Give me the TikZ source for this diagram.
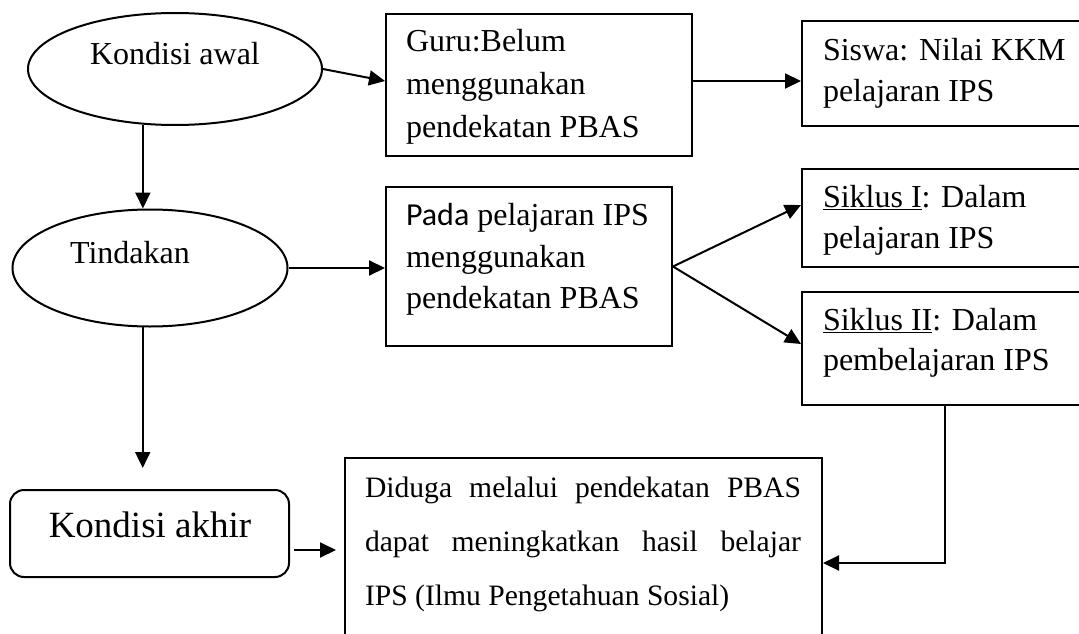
\documentclass[tikz,border=0pt]{standalone}
\usepackage{fontspec}
\setmainfont{Liberation Serif}
\newfontfamily\calibrifont{Carlito}
\usetikzlibrary{arrows.meta,shapes.geometric}
\begin{document}
\begin{tikzpicture}[x=1pt,y=1pt,
  line width=2pt,
  arr/.style={-{Triangle[length=16pt,width=15pt]}},
  boxnode/.style={draw,rectangle,inner sep=0pt,anchor=north west},
  ell/.style={draw,ellipse,inner sep=0pt},
  txt/.style={inner sep=0pt,anchor=base west,font=\fontsize{32}{40}\selectfont},
  dtxt/.style={inner sep=0pt,anchor=base west,font=\fontsize{29.6}{40}\selectfont},
  ctxt/.style={inner sep=0pt,anchor=base,font=\fontsize{32}{40}\selectfont}]
\clip (0,0) rectangle (1079,-634);
\fill[white] (0,0) rectangle (1079,-634);

% shapes
\node[ell,minimum width=294pt,minimum height=112pt] (e1) at (175,-69) {};
\node[ell,minimum width=275pt,minimum height=117pt] (e2) at (150,-268) {};
\node[draw,rectangle,rounded corners=14pt,inner sep=0pt,anchor=north west,minimum width=279pt,minimum height=87pt] (akhir) at (9,-489) {};
\node[boxnode,minimum width=306pt,minimum height=142pt] (guru) at (385,-13) {};
\node[boxnode,minimum width=286pt,minimum height=159pt] (pada) at (385,-186) {};
\node[boxnode,minimum width=299pt,minimum height=105pt] (siswa) at (801,-20) {};
\node[boxnode,minimum width=299pt,minimum height=98pt] (s1) at (801,-168) {};
\node[boxnode,minimum width=299pt,minimum height=113pt] (s2) at (801,-291) {};
\node[boxnode,minimum width=477pt,minimum height=210pt] (diduga) at (344,-457) {};

% texts
\node[ctxt] (t1) at (175,-65) {Kondisi awal};
\node[ctxt] (t2) at (130,-263) {Tindakan};
\node[ctxt,font=\fontsize{37}{44}\selectfont] (t3) at (150,-537) {Kondisi akhir};
\node[txt] (g1) at (405,-52) {Guru:Belum};
\node[txt] (g2) at (405,-94) {menggunakan};
\node[txt] (g3) at (405,-137) {pendekatan PBAS};
\node[txt] (p1) at (405,-225) {{\calibrifont Pada} pelajaran IPS};
\node[txt] (p2) at (405,-267) {menggunakan};
\node[txt] (p3) at (405,-308) {pendekatan PBAS};
\node[txt] (w1) at (822,-61) {Siswa: Nilai KKM};
\node[txt] (w2) at (822,-101) {pelajaran IPS};
\node[txt] (k1) at (822,-207) {\underline{Siklus I}: Dalam};
\node[txt] (k2) at (822,-248) {pelajaran IPS};
\node[txt] (m1) at (822,-330) {\underline{Siklus II}: Dalam};
\node[txt] (m2) at (822,-370) {pembelajaran IPS};
\node[dtxt] (d1) at (364,-497) {\makebox[436pt][s]{Diduga melalui pendekatan PBAS}};
\node[dtxt] (d2) at (364,-551) {\makebox[436pt][s]{dapat meningkatkan hasil belajar}};
\node[dtxt] (d3) at (364,-605) {IPS (Ilmu Pengetahuan Sosial)};

% connectors
\draw[arr] (e1.east) -- ([yshift=4pt]guru.west);
\draw[arr] ([yshift=4pt]guru.east) -- ([yshift=4pt]guru.east -| siswa.west);
\draw[arr] (e1.240) -- (e1.240 |- e2.north);
\draw[arr,shorten >=21pt] (e2.263) -- (e2.263 |- akhir.north);
\draw[arr] (e2.east) -- (e2.east -| pada.west);
\draw[arr] (pada.east) -- ([yshift=13pt]s1.west);
\draw[arr] (pada.east) -- ([yshift=4.5pt]s2.west);
\draw[arr,shorten <=4pt,shorten >=8pt] ([yshift=-16.5pt]akhir.east) -- ([yshift=-16.5pt]akhir.east -| diduga.west);
\draw[arr] ([xshift=-6.5pt]s2.south) |- (diduga.east);
\end{tikzpicture}
\end{document}
